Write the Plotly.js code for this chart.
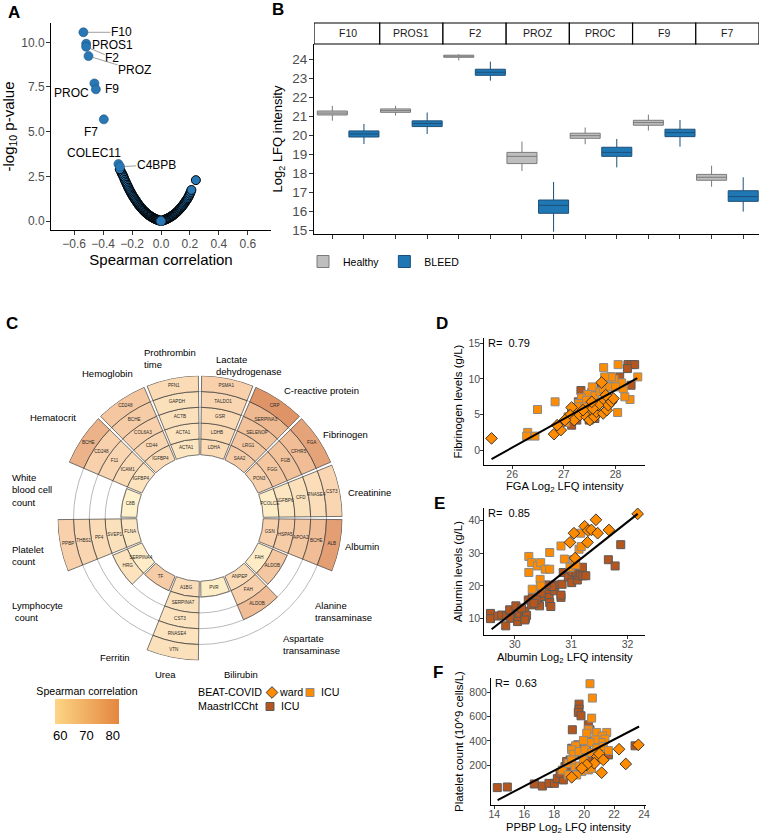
<!DOCTYPE html>
<html><head><meta charset="utf-8">
<script src="https://cdn.plot.ly/plotly-3.0.1.min.js"></script>
<style>html,body{margin:0;padding:0;background:#fff}#plot{width:760px;height:835px}</style>
</head><body><div id="plot"></div>
<script>
// ---------- Panel A data ----------
const volLeftR = [-0.275,-0.27,-0.265,-0.26,-0.255,-0.25,-0.245,-0.24,-0.235,-0.23,-0.225,-0.22,-0.215,-0.21,-0.205,-0.2,-0.195,-0.19,-0.185,-0.18,-0.175,-0.17,-0.165,-0.16,-0.155,-0.15,-0.145,-0.14,-0.135,-0.13,-0.125,-0.12,-0.115,-0.11,-0.105,-0.1,-0.095,-0.09,-0.085,-0.08,-0.075,-0.07,-0.065,-0.06,-0.055,-0.05,-0.045,-0.04,-0.035,-0.03,-0.025,-0.02,-0.015,-0.01,-0.005];
const volLeftP = [2.75,2.66,2.58,2.5,2.4,2.3,2.21,2.12,2.03,1.95,1.86,1.78,1.7,1.62,1.55,1.48,1.41,1.35,1.28,1.22,1.16,1.1,1.04,0.98,0.92,0.87,0.82,0.77,0.72,0.68,0.63,0.59,0.55,0.51,0.47,0.44,0.4,0.37,0.34,0.31,0.28,0.26,0.23,0.21,0.18,0.16,0.14,0.12,0.1,0.09,0.07,0.06,0.04,0.03,0.015];
const volRightR = [0.005,0.01,0.015,0.02,0.025,0.03,0.035,0.04,0.045,0.05,0.055,0.06,0.065,0.07,0.075,0.08,0.085,0.09,0.095,0.1,0.105,0.11,0.115,0.12,0.125,0.13,0.135,0.14,0.145,0.15,0.155,0.16,0.165,0.17,0.175,0.18,0.185,0.19,0.195,0.2,0.205,0.21];
const volRightP = [0.015,0.03,0.04,0.06,0.07,0.09,0.1,0.12,0.14,0.16,0.18,0.21,0.23,0.26,0.28,0.31,0.34,0.37,0.4,0.44,0.47,0.51,0.55,0.59,0.63,0.68,0.72,0.77,0.82,0.87,0.92,0.98,1.04,1.1,1.16,1.22,1.28,1.36,1.44,1.53,1.63,1.74];
const volExtraR = [0.241,-0.285];
const volExtraP = [2.29,2.9];
const labGenes = ['F10','PROS1','F2','PROZ','PROC','F9','F7','COLEC11','C4BPB'];
const labR = [-0.536,-0.517,-0.517,-0.501,-0.46,-0.45,-0.395,-0.294,-0.283];
const labP = [10.56,9.92,9.75,9.23,7.7,7.37,5.69,3.19,3.04];

// ---------- Panel B data ----------
const boxGenes = ['F10','PROS1','F2','PROZ','PROC','F9','F7'];
const hQ1  = [21.06,21.20,24.10,18.50,19.83,20.52,17.62];
const hMed = [21.16,21.29,24.16,18.88,19.97,20.66,17.78];
const hQ3  = [21.27,21.38,24.21,19.09,20.10,20.78,17.93];
const hLo  = [20.76,21.03,23.93,18.11,19.52,20.24,17.28];
const hHi  = [21.54,21.54,24.26,19.66,20.40,21.08,18.39];
const bQ1  = [19.90,20.45,23.15,15.88,18.88,19.92,16.51];
const bMed = [20.06,20.61,23.31,16.30,19.09,20.13,16.76];
const bQ3  = [20.22,20.75,23.47,16.58,19.36,20.31,17.07];
const bLo  = [19.53,20.06,22.87,14.91,18.30,19.39,15.97];
const bHi  = [20.59,21.19,23.87,17.53,19.80,20.80,17.78];

// ---------- Panel C data ----------
const sectorNames = ['Lactate dehydrogenase','C-reactive protein','Fibrinogen','Creatinine','Albumin','Alanine transaminase','Aspartate transaminase','Bilirubin','Urea','Ferritin','Lymphocyte count','Platelet count','White blood cell count','Hematocrit','Hemoglobin','Prothrombin time'];
const sectorGenes = [
 ['LDHA','LDHB','GSR','TALDO1','PSMA1'],
 ['SAA2','LRG1','SELENOP','SERPINA3','CRP'],
 ['PON3','FGG','FGB','CFHR5','FGA'],
 ['PCOLCE','IGFBP6','CFD','RNASE4','CST3'],
 ['GSN','HSPA5','APOA2','BCHE','ALB'],
 ['FAH','ALDOB'],
 ['ANPEP','FAH','ALDOB'],
 ['PVR'],
 ['A1BG','SERPINA7','CST3','RNASE4','VTN'],
 ['TF'],
 ['SERPINA4','HRG'],
 ['FLNA','SVEP1','PF4','THBS1','PPBP'],
 ['C8B'],
 ['IGFBP4','ICAM1','F11','CD248','BCHE'],
 ['IGFBP4','CD44','COL6A3','BCHE','CD248'],
 ['ACTA1','ACTA1','ACTB','GAPDH','PFN1']
];
const sectorValues = [
 [66,67,67,68,70],
 [71,72,73,75,82],
 [70,72,73,74,79],
 [60,62,64,65,68],
 [70,71,72,74,80],
 [60,72],
 [66,70,74],
 [59],
 [65,64,63,63,64],
 [71],
 [60,63],
 [62,64,66,68,70],
 [58],
 [63,66,68,70,76],
 [66,68,70,71,72],
 [62,63,64,64,66]
];
const corrRange = [58, 82.4];
const corrTicks = [60,70,80];

// ---------- Panels D/E/F data ----------
const dWardX = [25.60,26.81,26.94,26.87,27.15,27.12,27.20,27.31,27.44,27.50,27.59,27.63,27.76,27.73,27.83,27.86,27.92,27.96,27.66,27.56,27.54,27.37,27.81,27.02];
const dWardY = [1.64,2.24,2.80,3.50,5.98,4.91,4.21,4.91,4.67,4.21,4.67,5.37,5.14,9.49,5.61,6.31,6.78,7.24,6.31,5.84,6.78,5.61,7.71,4.21];
const dIcuX = [26.30,26.28,26.44,26.49,26.83,27.77,28.05,28.43,28.28,28.04,28.15,28.12,27.97,27.92,27.79,27.55,27.46,27.34,27.29,27.20,27.08,27.03,27.29,27.44,27.60,27.70,27.76,27.89,28.00,28.18,27.63,27.73,27.55,27.41];
const dIcuY = [2.48,1.96,1.96,5.70,6.78,11.59,12.01,10.28,7.10,5.28,8.64,9.44,9.95,10.28,10.28,8.88,7.80,7.34,6.54,5.28,4.67,3.88,6.07,7.01,7.62,8.18,8.64,8.88,8.88,7.48,6.54,6.78,5.37,6.07];
const dMaasX = [27.33,28.24,28.31,28.37,28.23,28.30,28.08,27.91,27.83,27.73,27.54,27.44,27.33,27.28,27.25,27.15,27.12,27.25,27.15,27.49,27.60,27.98];
const dMaasY = [8.36,12.01,12.01,12.01,11.45,9.11,10.28,10.28,8.88,8.74,8.08,6.78,6.31,6.78,5.61,5.14,3.97,4.21,3.50,4.21,4.44,9.6];
const dFitX = [25.6,28.42], dFitY = [-1.26,10.1];

const eWardX = [30.98,31.05,31.24,31.30,31.36,31.44,31.47,31.29,31.67,31.07,32.18];
const eWardY = [33.3,36.1,38.2,36.9,37.1,40.2,36.1,33.3,37.1,28.5,42.0];
const eIcuX = [30.25,30.30,30.25,30.40,30.46,30.54,30.62,30.62,30.82,30.88,30.98,31.04,31.08,31.14,31.17,31.18,30.45,30.46,30.31];
const eIcuY = [29.0,27.1,24.1,26.1,27.1,25.1,25.1,30.2,32.2,28.2,25.7,28.0,26.4,31.2,36.1,32.0,22.0,20.0,19.0];
const eMaasX = [29.57,29.57,29.70,29.77,29.85,29.91,29.93,29.84,30.02,30.05,30.06,30.08,30.18,30.19,30.21,30.18,30.24,30.31,30.42,30.38,30.44,30.46,30.53,30.58,30.61,30.62,30.64,30.71,30.82,30.82,30.71,30.84,30.86,30.95,31.01,31.02,31.09,31.11,31.14,31.17,31.20,31.21,31.26,31.66,31.78,31.88,30.66,30.56,30.47,30.38,30.30,30.12,30.34];
const eMaasY = [11.6,10.0,10.8,11.1,10.8,12.7,10.1,7.8,13.9,9.1,10.6,11.6,12.3,10.1,11.0,9.6,15.7,16.4,16.2,14.9,13.9,16.7,18.8,18.6,16.5,14.9,13.7,18.5,16.5,17.2,20.3,20.5,24.1,22.7,21.0,24.3,23.9,21.8,23.1,23.9,25.7,23.1,23.1,28.0,26.1,32.6,19.8,20.3,17.8,15.7,14.2,13.2,14.7];
const eFitX = [29.59,32.18], eFitY = [6.73,42.0];

const fWardX = [19.17,21.17,22.33,22.78,23.62,20.88,21.02,20.68,20.17,19.84,21.28];
const fWardY = [101,139,332,211,368,272,294,216,203,175,244];
const fIcuX = [20.39,20.55,20.50,20.28,20.17,20.84,21.51,21.22,21.39,21.13,20.73,20.39,19.95,19.43,19.17,19.28,19.66,20.06,20.50,20.84,21.28,21.62,18.54,18.94,19.39,19.66,19.84,20.28,20.50,19.50,18.94,19.95,19.17];
const fIcuY = [871,753,588,492,464,470,470,442,415,387,409,387,404,360,327,291,313,327,305,340,354,321,161,216,189,194,148,161,175,120,120,244,244];
const fMaasX = [14.20,14.87,16.67,17.21,17.65,18.01,18.21,18.61,18.39,18.72,18.94,19.06,19.21,19.66,19.66,19.61,19.79,20.28,20.39,19.43,19.57,19.84,20.17,20.50,20.68,20.24,19.95,19.28,18.83,23.40,21.62,20.95,19.17];
const fMaasY = [16,21,46,29,51,51,90,79,134,189,153,244,492,703,662,635,607,533,492,285,368,299,349,395,244,244,203,189,230,360,285,368,340];
const fFitX = [14.22,23.67], fFitY = [-86,519];

const corrLabels = ['R=  0.79','R=  0.85','R=  0.63'];
const xTitles = ['FGA Log<sub>2</sub> LFQ intensity','Albumin Log<sub>2</sub> LFQ intensity','PPBP Log<sub>2</sub> LFQ intensity'];
const cohortNames = ['BEAT-COVID','MaastrICCht'];
const groupNames = ['ward','ICU','ICU'];

// ---------- helpers ----------
const W = 760, H = 835;
const px = v => v / W;
const py = v => 1 - v / H;
const FONT = 'Liberation Sans, Arial, Helvetica, sans-serif';
const GREY = '#4d4d4d';

const traces = [];

// Panel A
const blueFill = '#2878b5';
traces.push({type:'scatter', mode:'markers', x: volLeftR.concat(volRightR, volExtraR), y: volLeftP.concat(volRightP, volExtraP),
  xaxis:'x', yaxis:'y', marker:{size:9, color:blueFill, line:{color:'#000', width:1}}, showlegend:false, hoverinfo:'skip'});
traces.push({type:'scatter', mode:'markers', x: labR, y: labP, xaxis:'x', yaxis:'y',
  marker:{size:9, color:blueFill, line:{color:'#1a4f7c', width:0.6}}, showlegend:false, hoverinfo:'skip'});
traces.push({type:'scatter', mode:'markers', x:[0], y:[0], xaxis:'x', yaxis:'y',
  marker:{size:9, color:blueFill, line:{color:'#1a4f7c', width:0.6}}, showlegend:false, hoverinfo:'skip'});

// Panel B boxes
const hX = boxGenes.map((g,i)=>2*i), bX = boxGenes.map((g,i)=>2*i+1);
traces.push({type:'box', name:'Healthy', x:hX, q1:hQ1, median:hMed, q3:hQ3, lowerfence:hLo, upperfence:hHi,
  xaxis:'x2', yaxis:'y2', width:0.95, whiskerwidth:0, fillcolor:'#bebebe', line:{color:'#7a7a7a', width:1}, legend:'legend', hoverinfo:'skip'});
traces.push({type:'box', name:'BLEED', x:bX, q1:bQ1, median:bMed, q3:bQ3, lowerfence:bLo, upperfence:bHi,
  xaxis:'x2', yaxis:'y2', width:0.95, whiskerwidth:0, fillcolor:'#1f78b4', line:{color:'#1d4f78', width:1}, legend:'legend', hoverinfo:'skip'});

// Panel C
const sectorWidth = 360 / sectorNames.length;
const cTheta = [], cBase = [], cR = [], cVal = [], cGene = [], cMid = [];
sectorGenes.forEach((genes, s) => {
  genes.forEach((g, k) => {
    cTheta.push(s * sectorWidth + sectorWidth / 2);
    cBase.push(4 + k); cR.push(1); cMid.push(4.5 + k);
    cVal.push(sectorValues[s][k]); cGene.push(g);
  });
});
const cellScale = [[0,'#fef1cb'],[0.5,'#f8d0ab'],[1,'#de9266']];
const barScale = [[0,'#fdd585'],[1,'#e4873f']];
traces.push({type:'barpolar', subplot:'polar', theta:cTheta, base:cBase, r:cR, width:sectorWidth-1.3,
  marker:{color:cVal, colorscale:cellScale, cmin:corrRange[0], cmax:corrRange[1], line:{color:'#3d3d3d', width:0.7}},
  showlegend:false, hoverinfo:'skip'});
traces.push({type:'scatterpolar', subplot:'polar', mode:'text', theta:cTheta, r:cMid, text:cGene,
  textfont:{size:4.6, color:'#2a2a2a', family:FONT}, showlegend:false, hoverinfo:'skip'});
// colour-bar carrier (point outside panel A's range)
traces.push({type:'scatter', mode:'markers', x:[corrRange[0]], y:[corrRange[0]], xaxis:'x', yaxis:'y', showlegend:false, hoverinfo:'skip',
  marker:{size:1, color:[corrRange[0]], colorscale:barScale, cmin:corrRange[0], cmax:corrRange[1], showscale:true,
    colorbar:{orientation:'h', x:px(87), xanchor:'center', y:py(686.5), yanchor:'top', len:64, lenmode:'pixels', thickness:25, thicknessmode:'pixels',
      outlinewidth:0, xpad:0, ypad:0, ticks:'', tickvals:corrTicks, tickfont:{size:13, color:'#000'},
      title:{text:'Spearman correlation', side:'top', font:{size:10.6, color:'#000'}}}}});

// Panels D/E/F
const wardStyle = {symbol:'diamond', size:9, color:'#ff8c00', line:{color:'#2a2a2a', width:0.9}};
const icuStyle = {symbol:'square', size:8, color:'#ff8c00', line:{color:'#8a8a8a', width:1}};
const maasStyle = {symbol:'square', size:8, color:'#b5561f', line:{color:'#5a5a5a', width:1}};
const panels = [
  {xa:'x3', ya:'y3', wx:dWardX, wy:dWardY, ix:dIcuX, iy:dIcuY, mx:dMaasX, my:dMaasY, fx:dFitX, fy:dFitY, leg:true},
  {xa:'x4', ya:'y4', wx:eWardX, wy:eWardY, ix:eIcuX, iy:eIcuY, mx:eMaasX, my:eMaasY, fx:eFitX, fy:eFitY, leg:false},
  {xa:'x5', ya:'y5', wx:fWardX, wy:fWardY, ix:fIcuX, iy:fIcuY, mx:fMaasX, my:fMaasY, fx:fFitX, fy:fFitY, leg:false}
];
panels.forEach(p => {
  traces.push({type:'scatter', mode:'markers', x:p.mx, y:p.my, xaxis:p.xa, yaxis:p.ya, marker:maasStyle, name:' ', legend:'legend3', showlegend:p.leg, hoverinfo:'skip'});
  traces.push({type:'scatter', mode:'markers', x:p.ix, y:p.iy, xaxis:p.xa, yaxis:p.ya, marker:icuStyle, name:' ', legend:'legend4', showlegend:p.leg, hoverinfo:'skip'});
  traces.push({type:'scatter', mode:'markers', x:p.wx, y:p.wy, xaxis:p.xa, yaxis:p.ya, marker:wardStyle, name:' ', legend:'legend2', showlegend:p.leg, hoverinfo:'skip'});
  traces.push({type:'scatter', mode:'lines', x:p.fx, y:p.fy, xaxis:p.xa, yaxis:p.ya, line:{color:'#000', width:2}, showlegend:false, hoverinfo:'skip'});
});

// ---------- layout ----------
const axBase = {showgrid:false, zeroline:false, showline:true, linecolor:'#000', linewidth:1, ticks:'outside', ticklen:4, tickcolor:'#333', tickwidth:1,
  tickfont:{size:12, color:GREY, family:FONT}, fixedrange:true, ticklabelstandoff:-1};
const smallTick = {ticklen:3, ticklabelstandoff:-2, tickfont:{size:10.5, color:GREY, family:FONT}};
const smallTickX = {ticklen:2.5, ticklabelstandoff:-3, tickfont:{size:10.5, color:GREY, family:FONT}};
const bRange = [-0.58, 13.5];
const legBase = {xanchor:'left', yanchor:'top', orientation:'h', bgcolor:'rgba(0,0,0,0)', itemwidth:30, font:{size:10.7}};
const layout = {
  width:W, height:H, margin:{l:0,r:0,t:0,b:0}, paper_bgcolor:'#fff', plot_bgcolor:'rgba(0,0,0,0)',
  font:{family:FONT, color:'#000'},
  xaxis: Object.assign({}, axBase, {domain:[px(51), px(271)], range:[-0.76,0.76], tickvals:[-0.6,-0.4,-0.2,0,0.2,0.4,0.6], tickformat:'.1f', anchor:'y',
    title:{text:'Spearman correlation', font:{size:15}, standoff:3}}),
  yaxis: Object.assign({}, axBase, {domain:[py(230), py(23)], range:[-0.5,11.08], tickvals:[0,2.5,5,7.5,10], tickformat:'.1f', anchor:'x',
    title:{text:'-log<sub>10</sub> p-value', font:{size:15}, standoff:6}}),
  xaxis2: Object.assign({}, axBase, {domain:[px(314), px(759)], range:bRange, tickvals:hX.concat(bX), showticklabels:false, anchor:'y2'}),
  yaxis2: Object.assign({}, axBase, {domain:[py(234), py(44)], range:[14.79,24.8], dtick:1, tick0:15, anchor:'x2', tickfont:{size:13.5, color:GREY, family:FONT},
    title:{text:'Log<sub>2</sub> LFQ intensity', font:{size:13}, standoff:6}}),
  xaxis3: Object.assign({}, axBase, smallTickX, {domain:[px(484.3), px(645)], range:[25.46,28.57], tickvals:[26,27,28], anchor:'y3'}),
  yaxis3: Object.assign({}, axBase, smallTick, {domain:[py(465), py(338)], range:[-2.1,15.75], tickvals:[0,5,10,15], anchor:'x3',
    title:{text:'Fibrinogen levels (g/L)', font:{size:11.5}, standoff:3}}),
  xaxis4: Object.assign({}, axBase, smallTickX, {domain:[px(484.3), px(645)], range:[29.46,32.31], tickvals:[30,31,32], anchor:'y4'}),
  yaxis4: Object.assign({}, axBase, smallTick, {domain:[py(635), py(508)], range:[5.0,43.8], tickvals:[10,20,30,40], anchor:'x4',
    title:{text:'Albumin levels (g/L)', font:{size:11.5}, standoff:3}}),
  xaxis5: Object.assign({}, axBase, smallTickX, {domain:[px(491), px(645.7)], range:[13.78,24.11], tickvals:[14,16,18,20,22,24], anchor:'y5'}),
  yaxis5: Object.assign({}, axBase, smallTick, {domain:[py(805), py(678)], range:[-127,918], tickvals:[200,400,600,800], anchor:'x5',
    title:{text:'Platelet count (10^9 cells/L)', font:{size:11.5}, standoff:3}}),
  polar: {
    domain:{x:[px(200-142.6), px(200+142.6)], y:[py(518+142.6), py(518-142.6)]},
    bgcolor:'rgba(0,0,0,0)',
    radialaxis:{range:[0,9.02], showline:false, showticklabels:false, ticks:'', tickvals:[5,6,7,8,9], showgrid:true, gridcolor:'#9a9a9a', gridwidth:0.7},
    angularaxis:{rotation:90, direction:'clockwise', showgrid:false, showline:false, showticklabels:false, ticks:''}
  },
  legend: Object.assign({}, legBase, {x:px(303), y:py(247), font:{size:10.5}, traceorder:'normal'}),
  legend2: Object.assign({}, legBase, {x:px(252), y:py(678)}),
  legend4: Object.assign({}, legBase, {x:px(290), y:py(678)}),
  legend3: Object.assign({}, legBase, {x:px(250), y:py(692)}),
  shapes: [], annotations: []
};

// Panel B strips
boxGenes.forEach((g, i) => {
  const x0 = i === 0 ? bRange[0] : 2*i - 0.5;
  const x1 = i === boxGenes.length - 1 ? bRange[1] : 2*i + 1.5;
  layout.shapes.push({type:'rect', xref:'x2', yref:'paper', x0:x0, x1:x1, y0:py(44), y1:py(23), line:{color:'#000', width:1.2}, fillcolor:'#fff', layer:'above'});
  layout.annotations.push({xref:'x2', yref:'paper', x:2*i+0.5, y:py(33.5), text:g, showarrow:false, font:{size:10.5, color:'#1a1a1a'}, yanchor:'middle'});
});

// Panel A labels
const labOffsets = [
  {arrow:true, ax:38, ay:0}, {arrow:false, xs:26, ys:-1}, {arrow:true, ax:26, ay:11}, {arrow:true, ax:46, ay:14},
  {arrow:false, xs:-23, ys:-10}, {arrow:false, xs:16, ys:0}, {arrow:false, xs:-13, ys:-13}, {arrow:false, xs:-24, ys:11}, {arrow:true, ax:36, ay:-2}
];
labGenes.forEach((g, i) => {
  const o = labOffsets[i];
  const a = {xref:'x', yref:'y', x:labR[i], y:labP[i], text:g, font:{size:12, color:'#000'}, borderpad:0};
  if (o.arrow) Object.assign(a, {showarrow:true, ax:o.ax, ay:o.ay, arrowhead:0, arrowwidth:0.7, arrowcolor:'#777', standoff:4});
  else Object.assign(a, {showarrow:false, xshift:o.xs, yshift:o.ys});
  layout.annotations.push(a);
});

// Panel C outer labels
const outerText = {
  'Lactate dehydrogenase':'Lactate<br>dehydrogenase', 'Alanine transaminase':'Alanine<br>transaminase', 'Aspartate transaminase':'Aspartate<br>transaminase',
  'Lymphocyte count':'Lymphocyte<br> count', 'Platelet count':'Platelet<br>count', 'White blood cell count':'White<br>blood cell<br>count', 'Prothrombin time':'Prothrombin<br>time'
};
const outerPos = [[215,365],[283,391],[322,434],[347,493],[344,546],[314,611],[282,644],[223,674],[154,674],[99,657],[11,611],[11,555],[11,490],[29,417],[81,373],[143,358]];
sectorNames.forEach((n, i) => {
  layout.annotations.push({xref:'paper', yref:'paper', x:px(outerPos[i][0]), y:py(outerPos[i][1]), xanchor:'left', yanchor:'middle', align:'left',
    text: outerText[n] || n, showarrow:false, font:{size:9.5, color:'#000'}, borderpad:0});
});

// Scatter legend texts
[[cohortNames[0],197,692],[groupNames[0],278,692],[groupNames[1],320,692],[cohortNames[1],197,706],[groupNames[2],280,706]].forEach(t => {
  layout.annotations.push({xref:'paper', yref:'paper', x:px(t[1]), y:py(t[2]), xanchor:'left', yanchor:'middle', text:t[0], showarrow:false, font:{size:10.7, color:'#000'}, borderpad:0});
});

// R labels and x-axis titles of D/E/F
const xTitleMid = [487, 658, 827.5];
[['x3','y3'],['x4','y4'],['x5','y5']].forEach((ax, i) => {
  layout.annotations.push({xref:ax[0]+' domain', yref:ax[1]+' domain', x:0.01, y:0.96, xanchor:'left', yanchor:'middle', text:corrLabels[i], showarrow:false, font:{size:11, color:'#000'}});
  layout.annotations.push({xref:ax[0]+' domain', yref:'paper', x:0.5, y:py(xTitleMid[i]), xanchor:'center', yanchor:'middle', text:xTitles[i], showarrow:false, font:{size:11.2, color:'#000'}, borderpad:0});
});

// Panel letters
[['A',14,12],['B',278,10],['C',12,323],['D',442,323],['E',439,503],['F',438,672]].forEach(l => {
  layout.annotations.push({xref:'paper', yref:'paper', x:px(l[1]), y:py(l[2]), text:'<b>'+l[0]+'</b>', showarrow:false, font:{size:17, color:'#000'}, xanchor:'center', yanchor:'middle'});
});

Plotly.newPlot('plot', traces, layout, {staticPlot:true, displayModeBar:false});
</script></body></html>
